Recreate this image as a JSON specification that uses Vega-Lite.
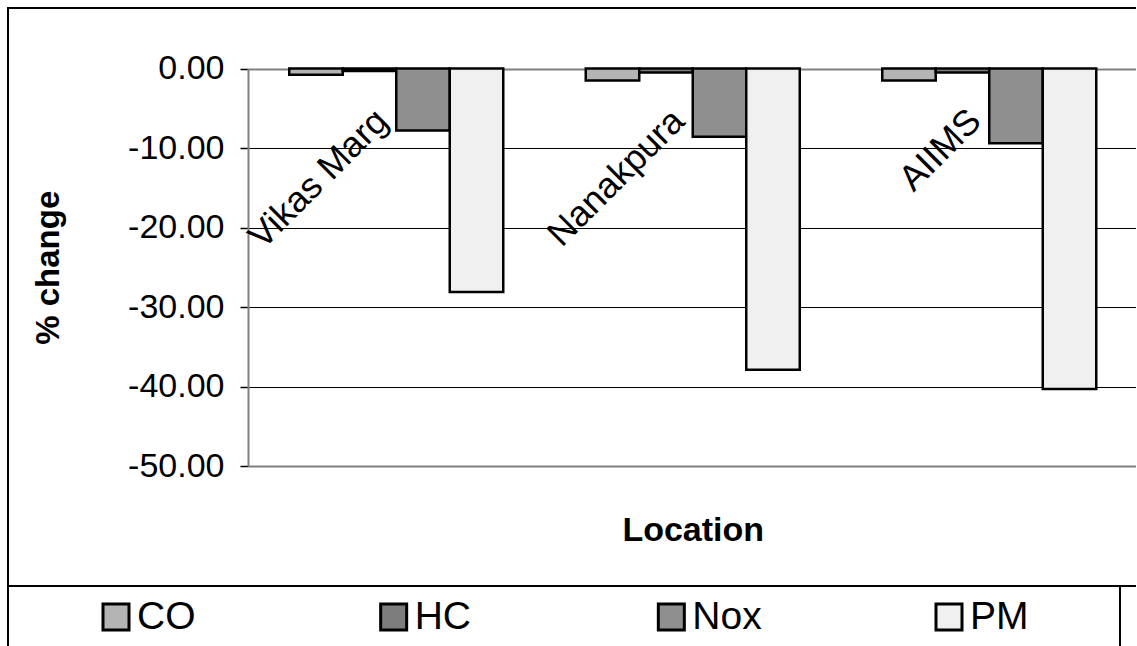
{
  "$schema": "https://vega.github.io/schema/vega-lite/v6.json",
  "background": "white",
  "padding": {"left": 7, "top": 7, "right": -3, "bottom": -3},
  "spacing": 0,
  "bounds": "flush",
  "config": {
    "font": "Liberation Sans",
    "view": {"stroke": "black", "strokeWidth": 2}
  },
  "datasets": {
    "changes": [
      {"loc": "Vikas Marg", "pollutant": "CO", "change": -0.8},
      {"loc": "Vikas Marg", "pollutant": "HC", "change": -0.3},
      {"loc": "Vikas Marg", "pollutant": "Nox", "change": -7.8},
      {"loc": "Vikas Marg", "pollutant": "PM", "change": -28.1},
      {"loc": "Nanakpura", "pollutant": "CO", "change": -1.5},
      {"loc": "Nanakpura", "pollutant": "HC", "change": -0.5},
      {"loc": "Nanakpura", "pollutant": "Nox", "change": -8.6},
      {"loc": "Nanakpura", "pollutant": "PM", "change": -37.9},
      {"loc": "AIIMS", "pollutant": "CO", "change": -1.5},
      {"loc": "AIIMS", "pollutant": "HC", "change": -0.5},
      {"loc": "AIIMS", "pollutant": "Nox", "change": -9.4},
      {"loc": "AIIMS", "pollutant": "PM", "change": -40.3}
    ],
    "locations": [
      {"loc": "Vikas Marg"},
      {"loc": "Nanakpura"},
      {"loc": "AIIMS"}
    ]
  },
  "vconcat": [
    {
      "width": 1130,
      "height": 578,
      "layer": [
        {
          "data": {"name": "changes"},
          "mark": {"type": "bar", "stroke": "black", "strokeWidth": 2.5},
          "encoding": {
            "x": {
              "field": "loc",
              "type": "nominal",
              "scale": {
                "domain": ["Vikas Marg", "Nanakpura", "AIIMS"],
                "range": [240, 1129.5],
                "paddingInner": 0,
                "paddingOuter": 0
              },
              "axis": {
                "orient": "bottom",
                "offset": -120,
                "labels": false,
                "ticks": false,
                "domain": false,
                "grid": false,
                "title": "Location",
                "titleFontSize": 34,
                "titleFontWeight": "bold",
                "titleColor": "black",
                "titlePadding": 47
              }
            },
            "xOffset": {
              "field": "pollutant",
              "type": "nominal",
              "scale": {
                "domain": ["CO", "HC", "Nox", "PM"],
                "paddingInner": 0,
                "paddingOuter": 0.771
              }
            },
            "y": {
              "field": "change",
              "type": "quantitative",
              "scale": {"domain": [-50, 0], "range": [458, 60.5], "nice": false, "zero": false},
              "axis": {
                "orient": "left",
                "offset": -240,
                "values": [0, -10, -20, -30, -40, -50],
                "labelExpr": "(datum.value < 0 ? '-' : '') + format(abs(datum.value), '.2f')",
                "labelFontSize": 34,
                "labelColor": "black",
                "labelPadding": 16,
                "tickSize": 8,
                "tickColor": "black",
                "tickWidth": 1.5,
                "domainColor": "#808080",
                "domainWidth": 2,
                "grid": true,
                "gridColor": {
                  "condition": {"test": "datum.value === 0 || datum.value === -50", "value": "#808080"},
                  "value": "black"
                },
                "gridWidth": {
                  "condition": {"test": "datum.value === 0 || datum.value === -50", "value": 2},
                  "value": 1
                },
                "title": "% change",
                "titleFontSize": 33,
                "titleFontWeight": "bold",
                "titleColor": "black",
                "titlePadding": 62
              }
            },
            "fill": {
              "field": "pollutant",
              "type": "nominal",
              "scale": {
                "domain": ["CO", "HC", "Nox", "PM"],
                "range": ["#b4b4b4", "#7d7d7d", "#8f8f8f", "#f0f0f0"]
              },
              "legend": null
            }
          }
        },
        {
          "data": {"name": "locations"},
          "mark": {
            "type": "text",
            "angle": -45,
            "align": "right",
            "baseline": "alphabetic",
            "fontSize": 36,
            "dx": -3,
            "dy": -6,
            "color": "black"
          },
          "encoding": {
            "x": {"field": "loc", "type": "nominal"},
            "y": {"datum": 0},
            "yOffset": {"value": 57},
            "text": {"field": "loc"}
          }
        }
      ]
    },
    {
      "width": 1112,
      "height": 62,
      "data": {"name": "changes"},
      "transform": [{"filter": "datum.loc === 'Vikas Marg'"}],
      "encoding": {
        "x": {
          "field": "pollutant",
          "type": "nominal",
          "scale": {"type": "point", "domain": ["CO", "HC", "Nox", "PM"], "range": [108, 941], "padding": 0},
          "axis": null
        }
      },
      "layer": [
        {
          "mark": {
            "type": "point",
            "shape": "square",
            "filled": true,
            "size": 676,
            "stroke": "black",
            "strokeWidth": 3,
            "opacity": 1
          },
          "encoding": {
            "fill": {
              "field": "pollutant",
              "type": "nominal",
              "scale": {
                "domain": ["CO", "HC", "Nox", "PM"],
                "range": ["#b4b4b4", "#7d7d7d", "#8f8f8f", "#f0f0f0"]
              },
              "legend": null
            }
          }
        },
        {
          "mark": {
            "type": "text",
            "align": "left",
            "baseline": "middle",
            "dx": 21,
            "fontSize": 39,
            "color": "black"
          },
          "encoding": {"text": {"field": "pollutant"}}
        }
      ]
    }
  ]
}
